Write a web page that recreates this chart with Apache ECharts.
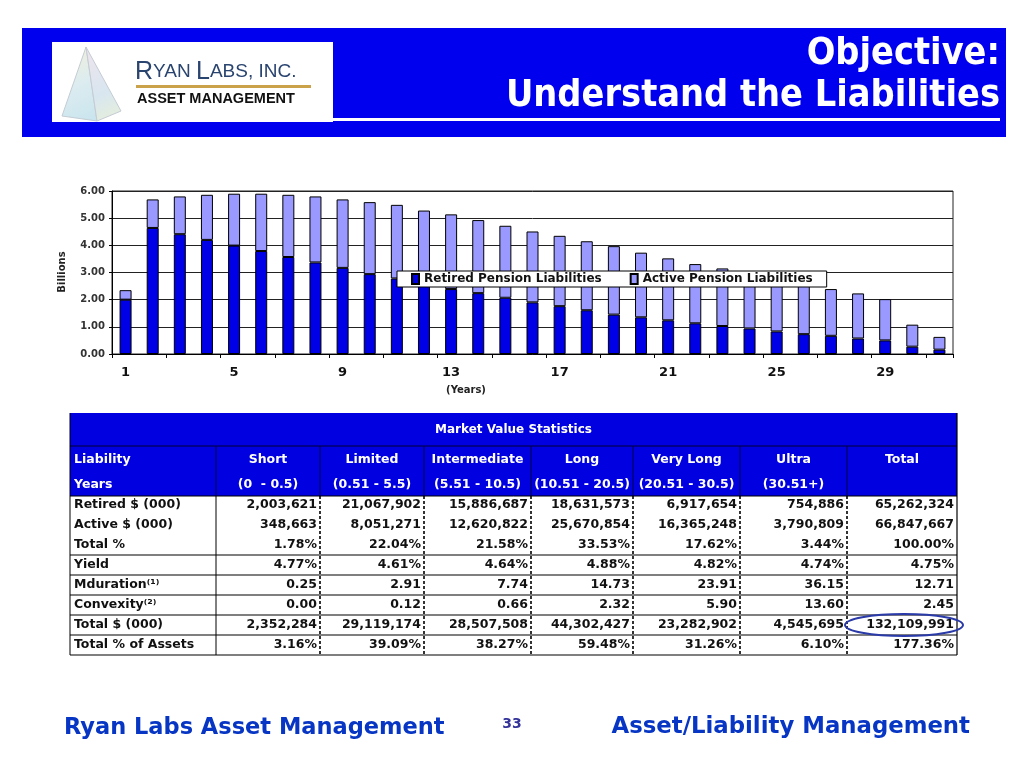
<!DOCTYPE html>
<html><head><meta charset="utf-8">
<script src="https://cdn.jsdelivr.net/npm/echarts@6/dist/echarts.min.js"></script>
<style>html,body{margin:0;padding:0;background:#fff}#c{width:1024px;height:768px}</style>
</head><body><div id="c"></div>
<script>
// ---------- chart data ----------
const years = ['1','2','3','4','5','6','7','8','9','10','11','12','13','14','15','16','17','18','19','20','21','22','23','24','25','26','27','28','29','30','31'];
const retired = [2.00,4.64,4.41,4.20,3.99,3.79,3.57,3.37,3.17,2.94,2.78,2.62,2.39,2.24,2.07,1.90,1.76,1.61,1.45,1.35,1.24,1.13,1.03,0.94,0.83,0.73,0.67,0.57,0.50,0.27,0.16];
const active  = [0.35,1.05,1.39,1.66,1.91,2.11,2.29,2.43,2.52,2.65,2.71,2.66,2.75,2.69,2.65,2.61,2.59,2.54,2.52,2.38,2.28,2.18,2.12,2.05,2.00,1.94,1.72,1.66,1.52,0.81,0.47];
const seriesNames = ['Retired Pension Liabilities','Active Pension Liabilities'];
const yAxisName = 'Billions';
const xAxisName = '(Years)';

// ---------- table data ----------
const tableTitle = 'Market Value Statistics';
const colNames = ['Liability','Short','Limited','Intermediate','Long','Very Long','Ultra','Total'];
const colYears = ['Years','(0  - 0.5)','(0.51 - 5.5)','(5.51 - 10.5)','(10.51 - 20.5)','(20.51 - 30.5)','(30.51+)',''];
const rowLabels = ['Retired $ (000)','Active $ (000)','Total %','Yield','Mduration\u207D\u00B9\u207E','Convexity\u207D\u00B2\u207E','Total $ (000)','Total % of Assets'];
const rowRetired  = ['2,003,621','21,067,902','15,886,687','18,631,573','6,917,654','754,886','65,262,324'];
const rowActive   = ['348,663','8,051,271','12,620,822','25,670,854','16,365,248','3,790,809','66,847,667'];
const rowTotalPct = ['1.78%','22.04%','21.58%','33.53%','17.62%','3.44%','100.00%'];
const rowYield    = ['4.77%','4.61%','4.64%','4.88%','4.82%','4.74%','4.75%'];
const rowMdur     = ['0.25','2.91','7.74','14.73','23.91','36.15','12.71'];
const rowConvex   = ['0.00','0.12','0.66','2.32','5.90','13.60','2.45'];
const rowTotalUsd = ['2,352,284','29,119,174','28,507,508','44,302,427','23,282,902','4,545,695','132,109,991'];
const rowTotalAss = ['3.16%','39.09%','38.27%','59.48%','31.26%','6.10%','177.36%'];
const tableRows = [rowRetired,rowActive,rowTotalPct,rowYield,rowMdur,rowConvex,rowTotalUsd,rowTotalAss];

// ---------- slide text ----------
const titleLine1 = 'Objective:';
const titleLine2 = 'Understand the Liabilities';
const footerLeft = 'Ryan Labs Asset Management';
const footerRight = 'Asset/Liability Management';
const pageNo = '33';

// ---------- layout ----------
const F = "'DejaVu Sans', Verdana, sans-serif";
const colX = [70,216,320,424,531,633,740,847,957];
const tTop = 413, h1 = 446, h2 = 473, hBot = 496, rowH = 20;
const headBlue = '#0000E0';

const g = [];
// header band
g.push({type:'rect', shape:{x:22,y:28,width:984,height:109}, style:{fill:'#0000EE'}, z:1});
g.push({type:'rect', shape:{x:52,y:42,width:281,height:80}, style:{fill:'#fff'}, z:2});
g.push({type:'rect', shape:{x:333,y:118,width:667,height:3}, style:{fill:'#fff'}, z:2});
g.push({type:'text', z:3, style:{text:titleLine1, x:1000, y:54, align:'right', verticalAlign:'middle', fill:'#fff',
  fontFamily:"'DejaVu Sans Condensed','DejaVu Sans',sans-serif", fontWeight:'bold', fontSize:37.5}});
g.push({type:'text', z:3, style:{text:titleLine2, x:1000, y:96, align:'right', verticalAlign:'middle', fill:'#fff',
  fontFamily:"'DejaVu Sans Condensed','DejaVu Sans',sans-serif", fontWeight:'bold', fontSize:37.5}});
// logo pyramid
g.push({type:'polygon', z:3, shape:{points:[[86,47],[62,116],[97,121]]},
  style:{fill:{type:'linear',x:0,y:0,x2:1,y2:1,colorStops:[{offset:0,color:'#f4f0d8'},{offset:0.5,color:'#dcecf0'},{offset:1,color:'#c8e4ee'}]}, stroke:'#c4ccd4', lineWidth:1}});
g.push({type:'polygon', z:3, shape:{points:[[86,47],[97,121],[121,111]]},
  style:{fill:{type:'linear',x:0,y:0,x2:1,y2:1,colorStops:[{offset:0,color:'#f0e4ec'},{offset:0.6,color:'#d8e6f0'},{offset:1,color:'#e8f0d8'}]}, stroke:'#c4ccd4', lineWidth:1}});
g.push({type:'text', z:3, style:{text:'{a|R}{b|YAN }{a|L}{b|ABS, INC.}', x:135, y:72, align:'left', verticalAlign:'middle',
  rich:{a:{fontFamily:"'Liberation Sans',Arial,sans-serif", fontSize:25, fill:'#2a4470', color:'#2a4470'}, b:{fontFamily:"'Liberation Sans',Arial,sans-serif", fontSize:19, fill:'#2a4470', color:'#2a4470'}}}});
g.push({type:'rect', z:3, shape:{x:136,y:85,width:175,height:3}, style:{fill:'#c9a24a'}});
g.push({type:'text', z:3, style:{text:'ASSET MANAGEMENT', x:137, y:99, align:'left', verticalAlign:'middle', fill:'#111',
  fontFamily:"'Liberation Sans Narrow','Liberation Sans',Arial,sans-serif", fontWeight:'bold', fontSize:14.5}});

// chart axis titles
g.push({type:'text', z:3, x:62, y:272, rotation:Math.PI/2, style:{text:yAxisName, align:'center', verticalAlign:'middle', fill:'#222', fontFamily:F, fontWeight:'bold', fontSize:10}});
g.push({type:'text', z:3, style:{text:xAxisName, x:466, y:390, align:'center', verticalAlign:'middle', fill:'#222', fontFamily:F, fontWeight:'bold', fontSize:10}});

// table header
g.push({type:'rect', z:3, shape:{x:colX[0],y:tTop,width:colX[8]-colX[0],height:hBot-tTop}, style:{fill:headBlue}});
g.push({type:'text', z:4, style:{text:tableTitle, x:(colX[0]+colX[8])/2, y:(tTop+h1)/2, align:'center', verticalAlign:'middle', fill:'#fff', fontFamily:F, fontWeight:'bold', fontSize:12}});
g.push({type:'line', z:4, shape:{x1:colX[0],y1:h1,x2:colX[8],y2:h1}, style:{stroke:'#000033', lineWidth:1}});
for (let i=1;i<8;i++) g.push({type:'line', z:4, shape:{x1:colX[i],y1:h1,x2:colX[i],y2:hBot}, style:{stroke:'#000044', lineWidth:1}});
for (let i=0;i<8;i++) {
  const isFirst = i===0;
  const cx = isFirst ? colX[0]+4 : (colX[i]+colX[i+1])/2;
  const al = isFirst ? 'left' : 'center';
  g.push({type:'text', z:4, style:{text:colNames[i], x:cx, y:460, align:al, verticalAlign:'middle', fill:'#fff', fontFamily:F, fontWeight:'bold', fontSize:12.5}});
  if (colYears[i]) g.push({type:'text', z:4, style:{text:colYears[i], x:cx, y:485, align:al, verticalAlign:'middle', fill:'#fff', fontFamily:F, fontWeight:'bold', fontSize:12.5}});
}
// table body
for (let r=0;r<tableRows.length;r++) {
  const cy = hBot + rowH*r + 9;
  g.push({type:'text', z:4, style:{text:rowLabels[r], x:colX[0]+4, y:cy, align:'left', verticalAlign:'middle', fill:'#111', fontFamily:F, fontWeight:'bold', fontSize:12.5}});
  for (let c=0;c<7;c++) {
    g.push({type:'text', z:4, style:{text:tableRows[r][c], x:colX[c+2]-3, y:cy, align:'right', verticalAlign:'middle', fill:'#111', fontFamily:F, fontWeight:'bold', fontSize:12.5}});
  }
}
const bodyBottom = hBot + rowH*tableRows.length - 1;
g.push({type:'line', z:4, shape:{x1:colX[0],y1:hBot,x2:colX[8],y2:hBot}, style:{stroke:'#000', lineWidth:1}});
[3,4,5,6,7,8].forEach(k=>{
  const y = hBot + rowH*k - 1;
  g.push({type:'line', z:4, shape:{x1:colX[0],y1:y,x2:colX[8],y2:y}, style:{stroke:'#000', lineWidth:1.2}});
});
g.push({type:'line', z:4, shape:{x1:colX[0],y1:tTop,x2:colX[0],y2:bodyBottom}, style:{stroke:'#000', lineWidth:1}});
g.push({type:'line', z:4, shape:{x1:colX[8],y1:tTop,x2:colX[8],y2:bodyBottom}, style:{stroke:'#000', lineWidth:1.2}});
g.push({type:'line', z:4, shape:{x1:colX[1],y1:hBot,x2:colX[1],y2:bodyBottom}, style:{stroke:'#000', lineWidth:1}});
for (let i=2;i<8;i++) g.push({type:'line', z:4, shape:{x1:colX[i],y1:hBot,x2:colX[i],y2:bodyBottom}, style:{stroke:'#000', lineWidth:1.6, lineDash:[3,2]}});
// highlight ellipse
g.push({type:'ellipse', z:5, shape:{cx:904, cy:625, rx:59, ry:11}, style:{fill:'none', stroke:'#2a3aa8', lineWidth:2}});

// footer
g.push({type:'text', z:3, style:{text:footerLeft, x:64, y:728, align:'left', verticalAlign:'middle', fill:'#0836c4', fontFamily:F, fontWeight:'bold', fontSize:22.5}});
g.push({type:'text', z:3, style:{text:pageNo, x:512, y:724, align:'center', verticalAlign:'middle', fill:'#33339a', fontFamily:F, fontWeight:'bold', fontSize:14}});
g.push({type:'text', z:3, style:{text:footerRight, x:970, y:727, align:'right', verticalAlign:'middle', fill:'#0836c4', fontFamily:F, fontWeight:'bold', fontSize:22.8}});

const chart = echarts.init(document.getElementById('c'), null, {renderer:'canvas'});
chart.setOption({
  animation:false,
  backgroundColor:'#fff',
  graphic:{elements:g},
  grid:{left:112, right:71, top:191, bottom:414, show:true, borderColor:'#222', borderWidth:1},
  legend:{
    left:397, top:271, padding:[2,14,2,14], itemWidth:7, itemHeight:10, itemGap:28,
    backgroundColor:'#fff', borderColor:'#000', borderWidth:1, icon:'rect', z:10,
    textStyle:{fontFamily:F, fontWeight:'bold', fontSize:12, color:'#111'},
    data:seriesNames
  },
  xAxis:{
    type:'category', data:years, boundaryGap:true,
    axisLine:{lineStyle:{color:'#000', width:1}},
    axisTick:{show:true, interval:1, length:4, lineStyle:{color:'#000'}},
    axisLabel:{interval:3, margin:12, fontFamily:F, fontWeight:'bold', fontSize:13, color:'#111'}
  },
  yAxis:{
    type:'value', min:0, max:6, interval:1,
    axisLine:{show:true, lineStyle:{color:'#000'}},
    axisTick:{show:true, length:3, lineStyle:{color:'#000'}},
    axisLabel:{margin:7, formatter:v=>v.toFixed(2), fontFamily:F, fontWeight:'bold', fontSize:10, color:'#333'},
    splitLine:{lineStyle:{color:'#222', width:1}}
  },
  series:[
    {name:seriesNames[0], type:'bar', stack:'t', barWidth:12, data:retired,
     itemStyle:{color:'#0000E6', borderColor:'#000', borderWidth:1}},
    {name:seriesNames[1], type:'bar', stack:'t', barWidth:12, data:active,
     itemStyle:{color:'#9999FF', borderColor:'#000', borderWidth:1}}
  ]
});
</script>
</body></html>
